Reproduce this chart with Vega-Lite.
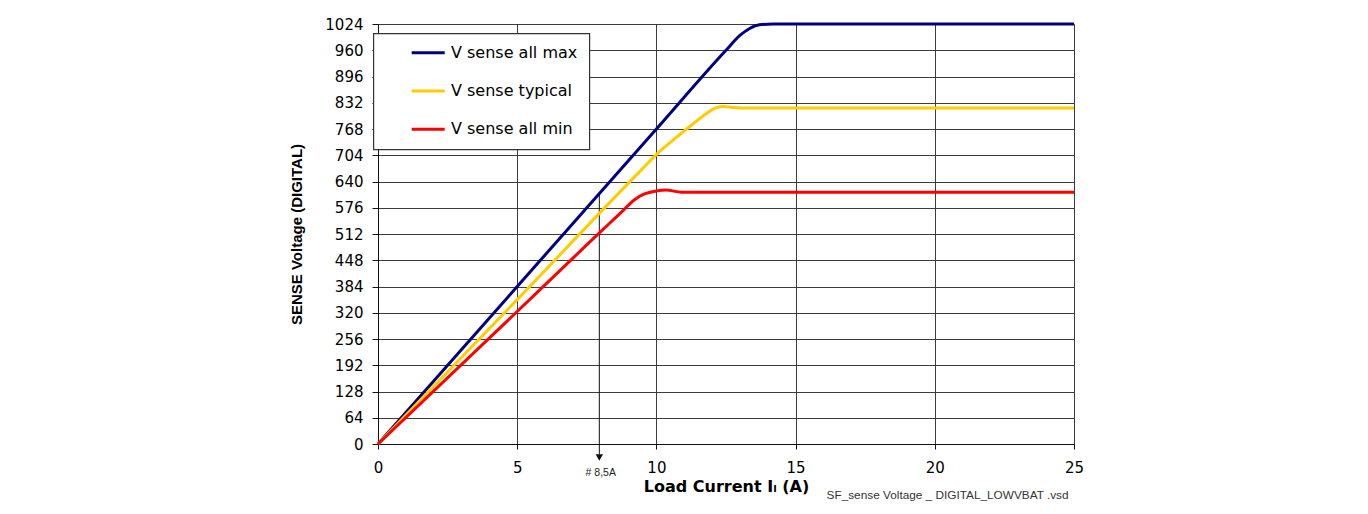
{
  "$schema": "https://vega.github.io/schema/vega-lite/v6.json",
  "width": 696,
  "height": 420,
  "autosize": "none",
  "padding": {"left": 378, "top": 24, "right": 294, "bottom": 70},
  "background": "white",
  "title": {
    "text": "SF_sense Voltage _ DIGITAL_LOWVBAT .vsd",
    "orient": "bottom",
    "anchor": "end",
    "offset": -4,
    "dx": -15,
    "baseline": "top",
    "font": "Liberation Sans",
    "fontSize": 11.8,
    "fontWeight": "normal",
    "color": "#333333"
  },
  "datasets": {
    "curves": [
      {"series": "V sense all max", "I": 0, "V": 0},
      {"series": "V sense all max", "I": 5, "V": 384},
      {"series": "V sense all max", "I": 10, "V": 768},
      {"series": "V sense all max", "I": 12.5, "V": 960},
      {"series": "V sense all max", "I": 13.0, "V": 996},
      {"series": "V sense all max", "I": 13.35, "V": 1013},
      {"series": "V sense all max", "I": 13.7, "V": 1022},
      {"series": "V sense all max", "I": 14.2, "V": 1024},
      {"series": "V sense all max", "I": 25, "V": 1024},
      {"series": "V sense typical", "I": 0, "V": 0},
      {"series": "V sense typical", "I": 5, "V": 352},
      {"series": "V sense typical", "I": 9.4, "V": 664},
      {"series": "V sense typical", "I": 10.1, "V": 712},
      {"series": "V sense typical", "I": 10.6, "V": 741},
      {"series": "V sense typical", "I": 11.2, "V": 774},
      {"series": "V sense typical", "I": 11.8, "V": 806},
      {"series": "V sense typical", "I": 12.1, "V": 819},
      {"series": "V sense typical", "I": 12.4, "V": 823},
      {"series": "V sense typical", "I": 12.7, "V": 821},
      {"series": "V sense typical", "I": 13.0, "V": 819},
      {"series": "V sense typical", "I": 25, "V": 819},
      {"series": "V sense all min", "I": 0, "V": 0},
      {"series": "V sense all min", "I": 5, "V": 323},
      {"series": "V sense all min", "I": 7.6, "V": 492},
      {"series": "V sense all min", "I": 8.3, "V": 537},
      {"series": "V sense all min", "I": 8.8, "V": 569},
      {"series": "V sense all min", "I": 9.2, "V": 595},
      {"series": "V sense all min", "I": 9.55, "V": 609},
      {"series": "V sense all min", "I": 10.0, "V": 617},
      {"series": "V sense all min", "I": 10.35, "V": 619},
      {"series": "V sense all min", "I": 10.9, "V": 614},
      {"series": "V sense all min", "I": 25, "V": 614}
    ],
    "arrow": [
      {"I": 7.95, "V": 610, "V2": -26}
    ],
    "head": [
      {"I": 7.95, "V": -33}
    ],
    "note": [
      {"I": 8.0, "V": -71, "label": "# 8,5A"}
    ]
  },
  "encoding": {
    "x": {
      "field": "I",
      "type": "quantitative",
      "scale": {"domain": [0, 25], "nice": false, "zero": false},
      "axis": {
        "title": "Load Current Iₗ (A)",
        "values": [0, 5, 10, 15, 20, 25],
        "format": "d",
        "titleFont": "DejaVu Sans",
        "titleFontWeight": "bold",
        "titleFontSize": 16,
        "titleColor": "#000000",
        "titlePadding": 3,
        "labelFont": "DejaVu Sans",
        "labelFontSize": 15,
        "labelColor": "#000000",
        "labelPadding": 11,
        "labelFlush": false,
        "labelOverlap": false,
        "tickSize": 5,
        "tickColor": "#111111",
        "domainColor": "#111111",
        "gridColor": "#3c3c3c",
        "gridOpacity": 1,
        "gridWidth": 1
      }
    },
    "y": {
      "field": "V",
      "type": "quantitative",
      "scale": {"domain": [0, 1024], "nice": false},
      "axis": {
        "title": "SENSE Voltage (DIGITAL)",
        "values": [0, 64, 128, 192, 256, 320, 384, 448, 512, 576, 640, 704, 768, 832, 896, 960, 1024],
        "format": "d",
        "titleFont": "Liberation Sans",
        "titleFontWeight": "bold",
        "titleFontSize": 15,
        "titleColor": "#000000",
        "titlePadding": 20,
        "labelFont": "DejaVu Sans",
        "labelFontSize": 15,
        "labelColor": "#000000",
        "labelPadding": 9,
        "labelFlush": false,
        "labelOverlap": false,
        "tickSize": 6,
        "tickColor": "#111111",
        "domainColor": "#111111",
        "gridColor": "#3c3c3c",
        "gridOpacity": 1,
        "gridWidth": 1
      }
    }
  },
  "layer": [
    {
      "data": {"name": "arrow"},
      "mark": {"type": "rule", "color": "#111111", "strokeWidth": 1},
      "encoding": {
        "y2": {"field": "V2"}
      }
    },
    {
      "data": {"name": "head"},
      "mark": {"type": "point", "shape": "triangle-down", "filled": true, "color": "#111111", "size": 55, "opacity": 1},
      "encoding": {}
    },
    {
      "data": {"name": "note"},
      "mark": {"type": "text", "font": "Liberation Sans", "fontSize": 10.5, "color": "#222222", "align": "center", "baseline": "middle"},
      "encoding": {
        "text": {"field": "label"}
      }
    },
    {
      "data": {"name": "curves"},
      "mark": {"type": "line", "strokeWidth": 3, "interpolate": "monotone"},
      "encoding": {
        "color": {
          "field": "series",
          "type": "nominal",
          "sort": ["V sense all max", "V sense typical", "V sense all min"],
          "scale": {
            "domain": ["V sense all max", "V sense typical", "V sense all min"],
            "range": ["#000080", "#FFCC00", "#FF0000"]
          },
          "legend": {
            "title": null,
            "orient": "none",
            "legendX": -4.7,
            "legendY": 9.3,
            "padding": 11.4,
            "rowPadding": 22.3,
            "symbolType": "M-3,0H3",
            "symbolSize": 121,
            "symbolStrokeWidth": 3,
            "symbolOffset": 35.5,
            "labelOffset": 14.8,
            "labelFont": "DejaVu Sans",
            "labelFontSize": 16,
            "labelColor": "#000000",
            "strokeColor": "#333333",
            "fillColor": "#FFFFFF"
          }
        }
      }
    }
  ],
  "config": {
    "view": {"stroke": null},
    "legend": {"strokeWidth": 1.2}
  }
}
